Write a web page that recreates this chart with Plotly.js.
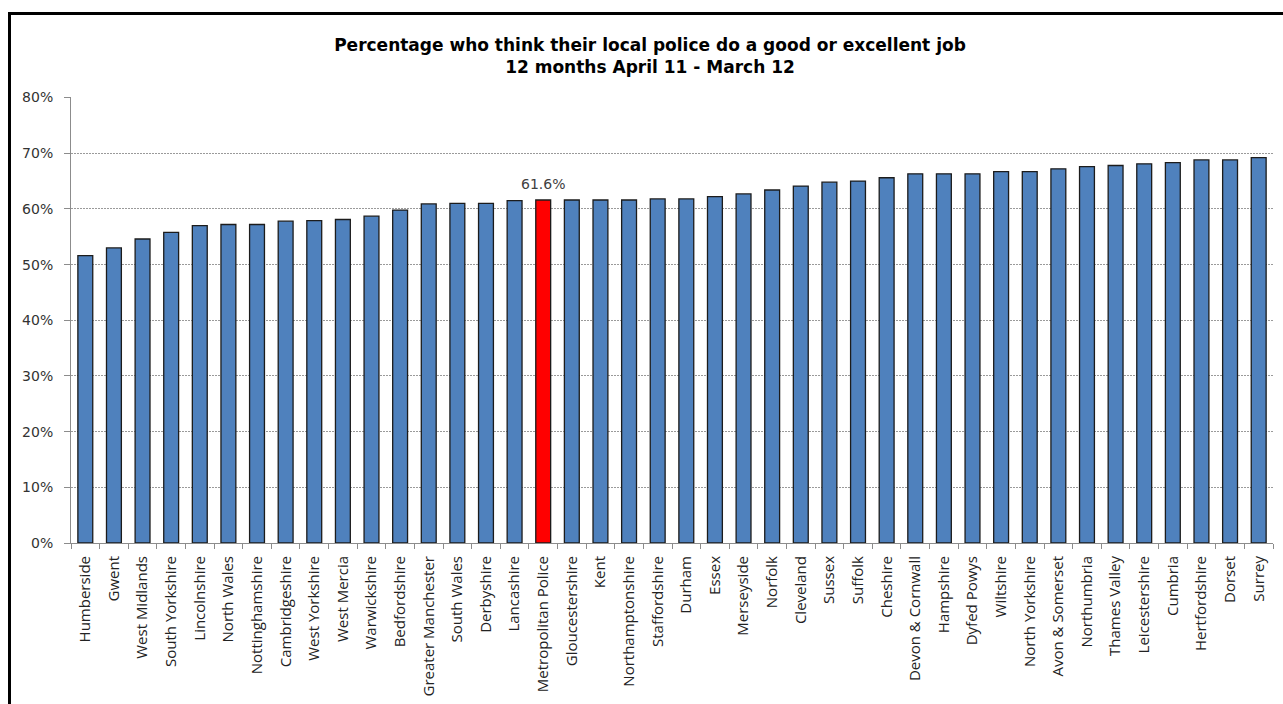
<!DOCTYPE html>
<html>
<head>
<meta charset="utf-8">
<script src="https://cdn.plot.ly/plotly-3.0.1.min.js"></script>
<style>
  html, body { margin: 0; padding: 0; background: #fff; }
  #chart { width: 1283px; height: 704px; }
</style>
</head>
<body>
<div id="chart"></div>
<script>
const forces = [
  "Humberside", "Gwent", "West Midlands", "South Yorkshire", "Lincolnshire",
  "North Wales", "Nottinghamshire", "Cambridgeshire", "West Yorkshire", "West Mercia",
  "Warwickshire", "Bedfordshire", "Greater Manchester", "South Wales", "Derbyshire",
  "Lancashire", "Metropolitan Police", "Gloucestershire", "Kent", "Northamptonshire",
  "Staffordshire", "Durham", "Essex", "Merseyside", "Norfolk",
  "Cleveland", "Sussex", "Suffolk", "Cheshire", "Devon & Cornwall",
  "Hampshire", "Dyfed Powys", "Wiltshire", "North Yorkshire", "Avon & Somerset",
  "Northumbria", "Thames Valley", "Leicestershire", "Cumbria", "Hertfordshire",
  "Dorset", "Surrey"
];
const goodOrExcellent = [
  51.6, 53.0, 54.6, 55.8, 57.0,
  57.2, 57.2, 57.8, 57.9, 58.1,
  58.7, 59.8, 60.9, 61.0, 61.0,
  61.5, 61.6, 61.6, 61.6, 61.6,
  61.8, 61.8, 62.2, 62.7, 63.4,
  64.1, 64.8, 65.0, 65.6, 66.3,
  66.3, 66.3, 66.7, 66.7, 67.2,
  67.6, 67.8, 68.1, 68.3, 68.8,
  68.8, 69.2
];
const highlightForce = "Metropolitan Police";
const highlightLabel = "61.6%";
const yTicks = [0, 10, 20, 30, 40, 50, 60, 70, 80];
const yTickText = ["0%", "10%", "20%", "30%", "40%", "50%", "60%", "70%", "80%"];

const barColors = forces.map(f => f === highlightForce ? "#FF0000" : "#4F81BD");

const W = 1283, H = 704;
const M = { l: 71, r: 10, t: 97, b: 161 };
const pw = W - M.l - M.r, ph = H - M.t - M.b;
const px2x = px => (px - M.l) / pw;
const py2y = py => (H - M.b - py) / ph;
const FONT = "DejaVu Sans, Verdana, sans-serif";
const LABEL_FONT = "Open Sans, sans-serif";

const trace = {
  type: "bar",
  x: forces,
  y: goodOrExcellent,
  marker: { color: barColors, line: { color: "#1c1c1c", width: 1.3 } },
  hoverinfo: "x+y"
};

const layout = {
  width: W, height: H,
  margin: M,
  paper_bgcolor: "#ffffff",
  plot_bgcolor: "#ffffff",
  showlegend: false,
  bargap: 0.48,
  font: { family: FONT, color: "#222" },
  title: {
    text: "Percentage who think their local police do a good or excellent job<br>12 months April 11 - March 12",
    font: { family: FONT, size: 17, color: "#000", weight: "bold" },
    xref: "container", x: 650 / W, xanchor: "center",
    yref: "container", y: (H - 51) / H, yanchor: "middle"
  },
  xaxis: {
    type: "category",
    tickangle: -90,
    tickfont: { family: LABEL_FONT, size: 15, color: "#222" },
    ticklabelstandoff: 6,
    showline: true, linecolor: "#8c8c8c", linewidth: 1,
    ticks: "outside", tickson: "boundaries", ticklen: 5, tickcolor: "#8c8c8c",
    showgrid: false, zeroline: false,
    fixedrange: true
  },
  yaxis: {
    range: [0, 80.1],
    tickmode: "array",
    tickvals: yTicks,
    ticktext: yTickText,
    tickfont: { family: FONT, size: 14, color: "#333" },
    ticklabelstandoff: 8,
    showline: true, linecolor: "#8c8c8c", linewidth: 1,
    ticks: "outside", ticklen: 6, tickcolor: "#8c8c8c",
    showgrid: true, gridcolor: "#9a9a9a", gridwidth: 1, griddash: "2px,1px",
    zeroline: false,
    fixedrange: true
  },
  annotations: [{
    x: highlightForce,
    y: goodOrExcellent[forces.indexOf(highlightForce)],
    xref: "x", yref: "y",
    text: highlightLabel,
    showarrow: false,
    yanchor: "bottom",
    yshift: 6,
    font: { family: FONT, size: 14, color: "#404040" }
  }],
  shapes: [
    { type: "line", xref: "paper", yref: "paper",
      x0: px2x(9.5), x1: px2x(9.5), y0: py2y(712), y1: py2y(12),
      line: { color: "#000", width: 3 } },
    { type: "line", xref: "paper", yref: "paper",
      x0: px2x(8), x1: px2x(1295), y0: py2y(13.5), y1: py2y(13.5),
      line: { color: "#000", width: 3 } }
  ]
};

Plotly.newPlot("chart", [trace], layout, { displayModeBar: false, staticPlot: true });
</script>
</body>
</html>
